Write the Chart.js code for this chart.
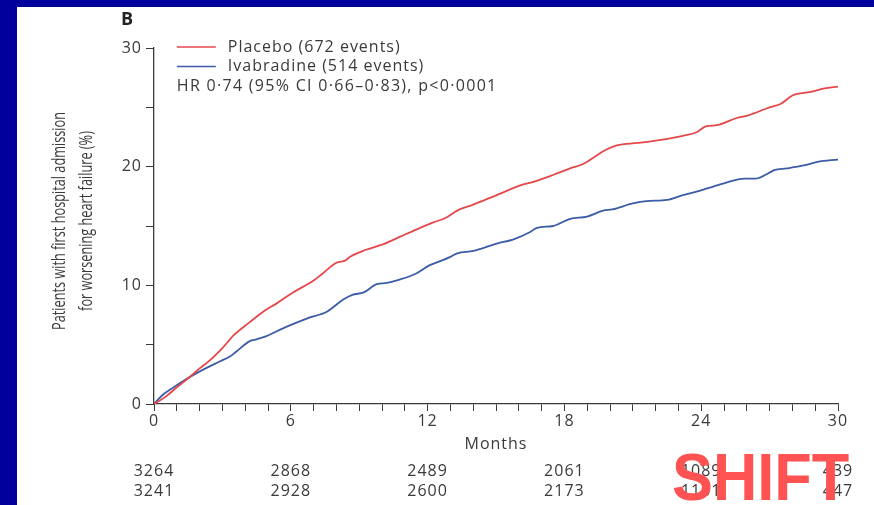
<!DOCTYPE html>
<html>
<head>
<meta charset="utf-8">
<script src="https://cdn.jsdelivr.net/npm/chart.js@4"></script>
<style>
  html, body { margin: 0; padding: 0; background: #00009c; }
  #wrap { position: relative; width: 874px; height: 505px; }
  canvas { display: block; }
</style>
</head>
<body>
<div id="wrap"><canvas id="kmChart" width="874" height="505"></canvas></div>
<script>
// Placebo curve, months / cumulative %
const placeboMonths = [0, 0.5, 1.0, 1.58, 2.0, 2.46, 3.04, 3.5, 4.2, 4.8, 5.4, 6.1, 7.0, 7.4, 8.0, 8.4, 8.6, 9.3, 10.1, 10.8, 11.5, 12.25, 12.8, 13.3, 14.0, 14.9, 16.2, 16.6, 17.5, 18.25, 18.8, 19.3, 19.7, 20.3, 21.2, 22.0, 23.2, 23.8, 24.2, 24.7, 25.55, 26.1, 27.0, 27.5, 28.0, 28.8, 29.4, 30];
const placeboPct = [0, 0.6, 1.4, 2.3, 3.0, 3.7, 4.8, 5.8, 6.9, 7.8, 8.5, 9.4, 10.4, 11.0, 11.9, 12.1, 12.4, 13.0, 13.5, 14.1, 14.7, 15.3, 15.7, 16.3, 16.8, 17.5, 18.5, 18.7, 19.3, 19.85, 20.2, 20.8, 21.3, 21.8, 22.0, 22.2, 22.6, 22.9, 23.4, 23.5, 24.1, 24.35, 25.0, 25.3, 26.0, 26.3, 26.6, 26.75];

// Ivabradine curve
const ivaMonths = [0, 0.4, 0.85, 1.87, 2.9, 3.33, 3.6, 4.2, 4.5, 4.9, 5.8, 6.7, 7.6, 8.3, 8.7, 9.2, 9.77, 10.2, 10.8, 11.5, 12.1, 12.5, 13.0, 13.3, 14.0, 15.0, 15.8, 16.5, 16.8, 17.5, 18.25, 19.0, 19.7, 20.1, 21.0, 21.6, 22.5, 23.2, 23.8, 24.5, 25.0, 25.9, 26.4, 27.0, 27.2, 27.75, 28.5, 29.1, 30];
const ivaPct = [0, 0.8, 1.4, 2.6, 3.6, 4.0, 4.4, 5.3, 5.45, 5.7, 6.5, 7.2, 7.8, 8.8, 9.2, 9.4, 10.1, 10.2, 10.5, 11.0, 11.7, 12.0, 12.4, 12.7, 12.9, 13.5, 13.9, 14.5, 14.85, 15.0, 15.6, 15.8, 16.3, 16.4, 16.9, 17.1, 17.2, 17.6, 17.9, 18.3, 18.6, 19.0, 19.0, 19.5, 19.7, 19.85, 20.1, 20.4, 20.6];

// numbers at risk
const riskMonths = [0, 6, 12, 18, 24, 30];
const riskPlacebo = [3264, 2868, 2489, 2061, 1089, 439];
const riskIva = [3241, 2928, 2600, 2173, 1101, 447];

const seriesNames = ['Placebo (672 events)', 'Ivabradine (514 events)'];
const hrText = 'HR 0\u00b774 (95% CI 0\u00b766\u20130\u00b783), p<0\u00b70001';
const yTitle = ['Patients with first hospital admission', 'for worsening heart failure (%)'];
const xTitle = 'Months';

const RED = '#e5474b';
const BLUE = '#3c5ca8';
const INK = '#3a3a3a';
const FONT = '"Open Sans", Lato, sans-serif';

const toPts = (xs, ys) => xs.map((x, i) => ({ x: x, y: ys[i] }));

// backdrop + all the loose text
const decor = {
    id: 'decor',
    beforeDraw(chart) {
        const c = chart.ctx;
        c.save();
        c.fillStyle = '#00009c';
        c.fillRect(0, 0, chart.width, chart.height);
        c.fillStyle = '#ffffff';
        c.fillRect(17, 7, chart.width - 17, chart.height - 7);
        c.restore();
        // wide spacing like the journal font, also picked up by the tick labels
        c.letterSpacing = '1px';
    },
    afterDraw(chart) {
        const c = chart.ctx;
        const xs = chart.scales.x;
        c.save();
        c.letterSpacing = '1px';

        c.fillStyle = '#222';
        c.font = 'bold 18px ' + FONT;
        c.textAlign = 'left';
        c.textBaseline = 'middle';
        c.fillText('B', 121, 20);

        // legend
        c.font = '16px ' + FONT;
        c.fillStyle = INK;
        const lx = xs.getPixelForValue(1);
        [RED, BLUE].forEach((col, i) => {
            const ly = 47 + i * 19.5;
            c.strokeStyle = col;
            c.lineWidth = 1.3;
            c.beginPath();
            c.moveTo(lx, ly);
            c.lineTo(lx + 39, ly);
            c.stroke();
            c.fillText(seriesNames[i], lx + 51, ly);
        });
        c.letterSpacing = '1.3px';
        c.fillText(hrText, lx, 86);
        c.letterSpacing = '1px';

        // y title, squeezed to the reference length
        c.letterSpacing = '0px';
        c.font = '18px ' + FONT;
        c.textAlign = 'center';
        const sq = 218 / c.measureText(yTitle[0]).width;
        yTitle.forEach((t, i) => {
            c.save();
            c.translate(60 + i * 27, 221);
            c.rotate(-Math.PI / 2);
            c.scale(sq, 1);
            c.fillText(t, 0, 0);
            c.restore();
        });
        c.letterSpacing = '1px';

        // x title
        c.font = '16px ' + FONT;
        c.fillText(xTitle, xs.getPixelForValue(15), 444);

        // at-risk rows
        riskMonths.forEach((m, i) => {
            const px = xs.getPixelForValue(m);
            c.fillText(String(riskPlacebo[i]), px, 471);
            c.fillText(String(riskIva[i]), px, 491);
        });

        // SHIFT stamp
        c.letterSpacing = '0px';
        c.fillStyle = '#ff5252';
        c.font = 'bold 66px "Liberation Sans", Arial, sans-serif';
        c.textAlign = 'left';
        c.textBaseline = 'alphabetic';
        c.save();
        c.translate(672, 500);
        c.scale(0.93, 1);
        c.fillText('SHIFT', 0, 0);
        c.restore();

        c.restore();
    }
};

new Chart(document.getElementById('kmChart'), {
    type: 'line',
    data: {
        datasets: [
            {
                label: seriesNames[0],
                data: toPts(placeboMonths, placeboPct),
                borderColor: RED,
                borderWidth: 1.8,
                pointRadius: 0,
                cubicInterpolationMode: 'monotone',
                fill: false
            },
            {
                label: seriesNames[1],
                data: toPts(ivaMonths, ivaPct),
                borderColor: BLUE,
                borderWidth: 1.8,
                pointRadius: 0,
                cubicInterpolationMode: 'monotone',
                fill: false
            }
        ]
    },
    options: {
        responsive: false,
        animation: false,
        layout: { padding: { left: 0, top: 48, right: 36, bottom: 71 } },
        plugins: {
            legend: { display: false },
            tooltip: { enabled: false }
        },
        scales: {
            x: {
                type: 'linear',
                min: 0,
                max: 30,
                afterFit: s => { s.height = 30; },
                border: { display: true, color: INK, width: 1.3 },
                grid: { drawOnChartArea: false, drawTicks: true, tickLength: 7, color: INK, lineWidth: 1 },
                ticks: {
                    stepSize: 1,
                    autoSkip: false,
                    maxRotation: 0,
                    padding: 1,
                    color: INK,
                    font: { family: FONT, size: 16 },
                    callback: v => (v % 6 === 0 ? String(v) : '')
                }
            },
            y: {
                min: 0,
                max: 30,
                afterFit: s => { s.width = 154; },
                border: { display: true, color: INK, width: 1.3 },
                grid: { drawOnChartArea: false, drawTicks: true, tickLength: 8, color: INK, lineWidth: 1 },
                ticks: {
                    stepSize: 5,
                    padding: 4,
                    color: INK,
                    font: { family: FONT, size: 16 },
                    callback: v => (v % 10 === 0 ? String(v) : '')
                }
            }
        }
    },
    plugins: [decor]
});
</script>
</body>
</html>
